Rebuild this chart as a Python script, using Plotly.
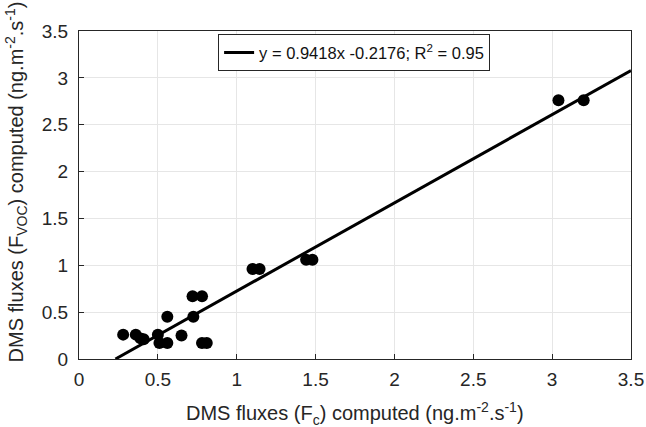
import numpy as np
import plotly.graph_objects as go

# Data points (DMS fluxes): x = F_c, y = F_VOC
fc = [0.28, 0.36, 0.39, 0.41, 0.50, 0.65, 0.51, 0.56, 0.56, 0.725,
      0.72, 0.78, 0.78, 0.81, 1.10, 1.145, 1.44, 1.48, 3.04, 3.20]
fvoc = [0.26, 0.26, 0.22, 0.21, 0.26, 0.25, 0.17, 0.17, 0.45, 0.45,
        0.67, 0.67, 0.17, 0.17, 0.96, 0.96, 1.06, 1.06, 2.76, 2.76]

slope = 0.9418
intercept = -0.2176
fit_x_range = [-intercept / slope, 3.5]
legend_label = "y = 0.9418x -0.2176; R<sup>2</sup> = 0.95"

x_ticks = [0, 0.5, 1, 1.5, 2, 2.5, 3, 3.5]
y_ticks = [0, 0.5, 1, 1.5, 2, 2.5, 3, 3.5]

x_title = "DMS fluxes (F<sub>c</sub>) computed (ng.m<sup>-2</sup>.s<sup>-1</sup>)"
y_title = "DMS fluxes (F<sub>VOC</sub>) computed (ng.m<sup>-2</sup>.s<sup>-1</sup>)"

fx = np.array(fit_x_range)
fy = slope * fx + intercept

FONT = "Liberation Sans, Arial"
TXT = "#262626"

fig = go.Figure()
fig.add_trace(go.Scatter(x=fc, y=fvoc, mode="markers",
                         marker=dict(color="black", size=12),
                         showlegend=False))
fig.add_trace(go.Scatter(x=fx, y=fy, mode="lines",
                         line=dict(color="black", width=3),
                         name=legend_label, showlegend=True))

axis_common = dict(
    showgrid=True, gridcolor="#e6e6e6", gridwidth=1,
    showline=True, linecolor=TXT, linewidth=1, mirror=True,
    ticks="inside", ticklen=5, tickcolor=TXT,
    zeroline=False, automargin=False,
    tickfont=dict(family=FONT, size=19, color=TXT),
)

fig.update_xaxes(range=[0, 3.5], tickvals=x_ticks,
                 ticktext=[f"{t:g}" for t in x_ticks],
                 ticklabelstandoff=3, **axis_common)
fig.update_yaxes(range=[0, 3.5], tickvals=y_ticks,
                 ticktext=[f"{t:g}" for t in y_ticks],
                 ticklabelstandoff=6, **axis_common)

fig.add_annotation(text=x_title, xref="paper", yref="paper",
                   x=0.5, y=-0.115, xanchor="center", yanchor="top",
                   showarrow=False,
                   font=dict(family=FONT, size=20, color=TXT))
fig.add_annotation(text=y_title, xref="paper", yref="paper",
                   x=-0.143, y=0.54, xanchor="left", yanchor="middle",
                   textangle=-90, showarrow=False,
                   font=dict(family=FONT, size=20, color=TXT))

fig.update_layout(
    width=646, height=427,
    margin=dict(l=79, r=15, t=31, b=68),
    paper_bgcolor="white", plot_bgcolor="white",
    font=dict(family=FONT, color=TXT),
    legend=dict(x=0.252, y=0.99, xanchor="left", yanchor="top",
                bgcolor="white", bordercolor=TXT, borderwidth=1,
                font=dict(family=FONT, size=16.5, color="#111111"),
                itemwidth=30, tracegroupgap=0),
)

fig.write_html("out.html", config={"displayModeBar": False},
               post_script="document.body.style.margin='0px';document.body.style.overflow='hidden';")
